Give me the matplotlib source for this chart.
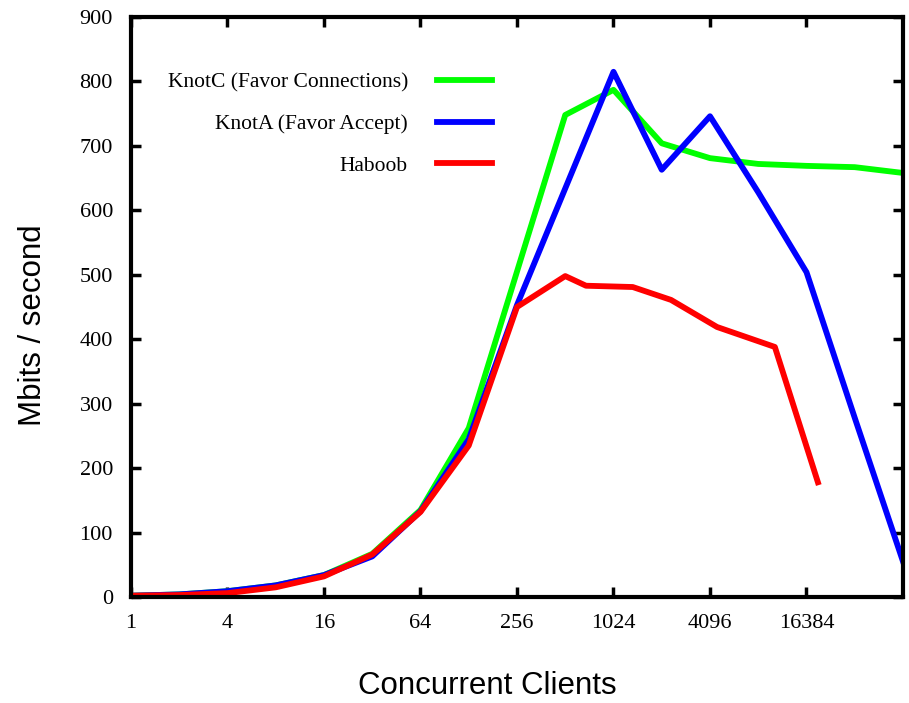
import matplotlib
matplotlib.use("Agg")
from matplotlib import pyplot as plt
from matplotlib.ticker import FixedLocator, FixedFormatter

# Concurrent clients vs throughput (Mbits / second)
knotc_x = [1, 2, 4, 8, 16, 32, 64, 128, 256, 512, 1024, 2048, 4096, 8192,
           16384, 32768, 65536]
knotc_y = [2, 4, 9, 18, 34, 67, 135, 262, 505, 748, 787, 704, 681, 672,
           669, 667, 658]

knota_x = [1, 2, 4, 8, 16, 32, 64, 128, 256, 512, 1024, 2048, 4096, 8192,
           16384, 32768, 65536]
knota_y = [2, 4, 9, 18, 34, 63, 133, 245, 453, 634, 815, 663, 746, 628,
           504, 278, 55]

haboob_x = [1, 2, 4, 8, 16, 32, 64, 128, 256, 512, 690, 1350, 2340, 4530,
            10400, 19300]
haboob_y = [2, 3, 6, 15, 32, 66, 132, 235, 450, 498, 483, 481, 461, 419,
            388, 178]

x_ticks = [1, 4, 16, 64, 256, 1024, 4096, 16384]
y_ticks = list(range(0, 901, 100))

SERIF = ["Liberation Serif", "DejaVu Serif"]
SANS = ["Liberation Sans", "DejaVu Sans"]

fig = plt.figure(figsize=(9.09, 7.03), dpi=100)
ax = fig.add_axes([0.1441, 0.1508, 0.8493, 0.825])

lw = 4.2
ax.plot(knotc_x, knotc_y, color="#00ff00", lw=lw,
        label="KnotC (Favor Connections)")
ax.plot(knota_x, knota_y, color="#0000ff", lw=lw,
        label="KnotA (Favor Accept)")
ax.plot(haboob_x, haboob_y, color="#ff0000", lw=lw, label="Haboob")

ax.set_xscale("log", base=2)
ax.set_xlim(1, 65536)
ax.set_ylim(0, 900)

ax.xaxis.set_major_locator(FixedLocator(x_ticks))
ax.xaxis.set_major_formatter(FixedFormatter([str(t) for t in x_ticks]))
ax.xaxis.set_minor_locator(FixedLocator([]))
ax.set_yticks(y_ticks)

ax.tick_params(axis="both", which="major", direction="in", length=7,
               width=2.5, top=True, right=True, labelsize=16)
ax.tick_params(axis="x", pad=12)
ax.tick_params(axis="y", pad=13)
for lab in ax.get_xticklabels() + ax.get_yticklabels():
    lab.set_family(SERIF)

for spine in ax.spines.values():
    spine.set_linewidth(3)

ax.set_xlabel("Concurrent Clients", family=SANS, fontsize=22.5)
ax.xaxis.set_label_coords(0.462, -0.127)
ax.set_ylabel("Mbits / second", family=SANS, fontsize=22.5)
ax.yaxis.set_label_coords(-0.1075, 0.469)

leg = ax.legend(loc="upper right", bbox_to_anchor=(0.4676, 0.904),
                frameon=False, markerfirst=False, handlelength=2.55,
                labelspacing=1.0, handletextpad=1.35, borderpad=0,
                borderaxespad=0,
                prop={"family": SERIF, "size": 15.5})

fig.savefig("out.png", dpi=100)
plt.close(fig)
